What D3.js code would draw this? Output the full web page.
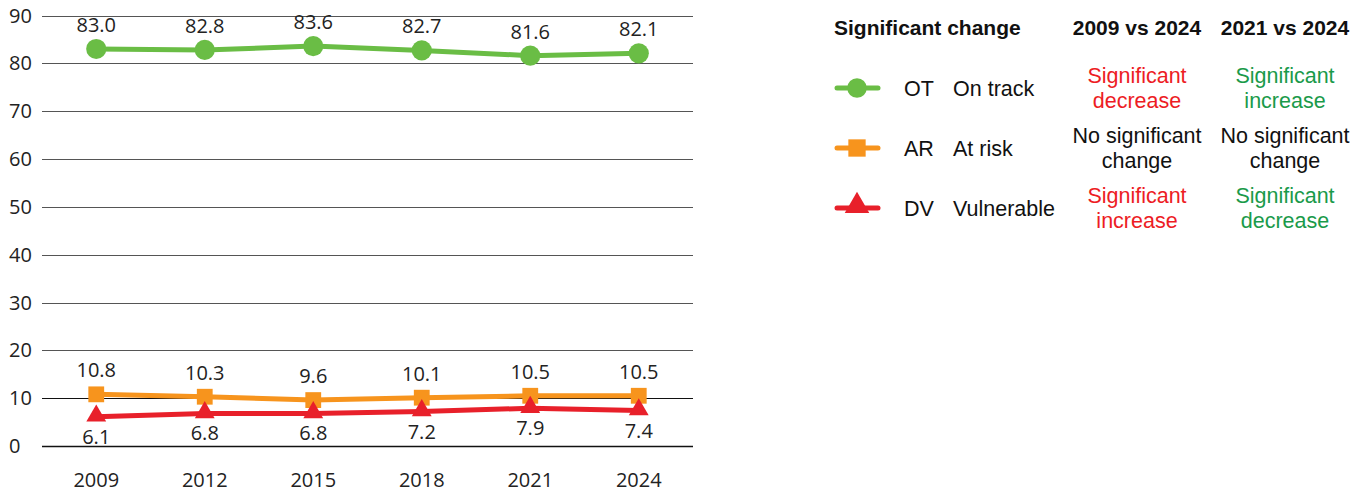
<!DOCTYPE html>
<html>
<head>
<meta charset="utf-8">
<script src="https://cdn.jsdelivr.net/npm/d3@7/dist/d3.min.js"></script>
<style>
  html, body { margin: 0; padding: 0; background: #fff; }
  svg { display: block; }
</style>
</head>
<body>
<svg id="chart" width="1367" height="493"></svg>
<script>
// Survey years and the share of children in each developmental group (%)
const years = ["2009", "2012", "2015", "2018", "2021", "2024"];
const onTrack = [83.0, 82.8, 83.6, 82.7, 81.6, 82.1];
const atRisk = [10.8, 10.3, 9.6, 10.1, 10.5, 10.5];
const vulnerable = [6.1, 6.8, 6.8, 7.2, 7.9, 7.4];
const yTicks = [0, 10, 20, 30, 40, 50, 60, 70, 80, 90];

// Legend / significance table
const codes = ["OT", "AR", "DV"];
const groupNames = ["On track", "At risk", "Vulnerable"];
const change2009 = [["Significant", "decrease"], ["No significant", "change"], ["Significant", "increase"]];
const change2021 = [["Significant", "increase"], ["No significant", "change"], ["Significant", "decrease"]];
const tone2009 = ["down", "none", "up"];
const tone2021 = ["up", "none", "down"];

const colors = { OT: "#6abd45", AR: "#f7941d", DV: "#e8202a" };
const toneColor = { down: "#ed1c24", up: "#ed1c24", none: "#111" };
const toneColor2 = { up: "#1a9a4a", down: "#1a9a4a", none: "#111" };

const chartFont = "'Open Sans', 'Noto Sans', sans-serif";
const legendFont = "'Liberation Sans', Arial, sans-serif";

const svg = d3.select("#chart");

const x = d3.scalePoint().domain(years).range([42, 693]).padding(0.5);
const y = d3.scaleLinear().domain([0, 90]).range([446, 15.5]);

// Horizontal grid lines
svg.append("g").selectAll("line").data(yTicks).join("line")
  .attr("x1", 42).attr("x2", 693)
  .attr("y1", d => Math.round(y(d)) + 0.5).attr("y2", d => Math.round(y(d)) + 0.5)
  .attr("stroke", d => d <= 10 ? "#111" : "#555")
  .attr("stroke-width", d => d === 0 ? 1.6 : 1.2);

// Y axis labels
svg.append("g").selectAll("text").data(yTicks).join("text")
  .attr("x", 9).attr("y", d => y(d) + 7)
  .attr("font-family", chartFont).attr("font-size", 20).attr("fill", "#222")
  .text(d => d);

// X axis labels
svg.append("g").selectAll("text").data(years).join("text")
  .attr("x", d => x(d)).attr("y", 487)
  .attr("text-anchor", "middle")
  .attr("font-family", chartFont).attr("font-size", 20).attr("fill", "#222")
  .text(d => d);

const line = d3.line().x((d, i) => x(years[i])).y(d => y(d));

const series = [
  { key: "OT", values: onTrack, shape: d3.symbolCircle, size: 320 },
  { key: "AR", values: atRisk, shape: d3.symbolSquare, size: 250 },
  { key: "DV", values: vulnerable, shape: d3.symbolTriangle, size: 170 }
];

// Draw AR first, then DV, then OT so the red line sits over the orange one
[series[1], series[2], series[0]].forEach(s => {
  const g = svg.append("g");
  g.append("path").datum(s.values)
    .attr("d", line).attr("fill", "none")
    .attr("stroke", colors[s.key]).attr("stroke-width", 5)
    .attr("stroke-linejoin", "round");
  g.selectAll("path.mark").data(s.values).join("path")
    .attr("class", "mark")
    .attr("d", d3.symbol().type(s.shape).size(s.size))
    .attr("transform", (d, i) => `translate(${x(years[i])},${y(d) + (s.key === "DV" ? -1 : 0)})`)
    .attr("fill", colors[s.key]);
});

// Value labels: above the line for OT and AR, below for DV
series.forEach(s => {
  svg.append("g").selectAll("text").data(s.values).join("text")
    .attr("x", (d, i) => x(years[i]))
    .attr("y", d => s.key === "DV" ? y(d) + 27 : y(d) - 17)
    .attr("text-anchor", "middle")
    .attr("font-family", chartFont).attr("font-size", 20).attr("fill", "#222")
    .text(d => d.toFixed(1));
});

// Significance table
const lg = svg.append("g");
lg.append("text").attr("x", 834).attr("y", 35)
  .attr("font-family", legendFont).attr("font-weight", "bold").attr("font-size", 21)
  .attr("fill", "#111").text("Significant change");
lg.append("text").attr("x", 1137).attr("y", 35).attr("text-anchor", "middle")
  .attr("font-family", legendFont).attr("font-weight", "bold").attr("font-size", 21)
  .attr("fill", "#111").text("2009 vs 2024");
lg.append("text").attr("x", 1285).attr("y", 35).attr("text-anchor", "middle")
  .attr("font-family", legendFont).attr("font-weight", "bold").attr("font-size", 21)
  .attr("fill", "#111").text("2021 vs 2024");

const shapes = [d3.symbolCircle, d3.symbolSquare, d3.symbolTriangle];
const shapeSizes = [300, 300, 260];
codes.forEach((c, i) => {
  const cy = 88 + i * 60;
  lg.append("line").attr("x1", 837).attr("x2", 878).attr("y1", cy).attr("y2", cy)
    .attr("stroke", colors[c]).attr("stroke-width", 5).attr("stroke-linecap", "round");
  lg.append("path").attr("d", d3.symbol().type(shapes[i]).size(shapeSizes[i]))
    .attr("transform", `translate(857,${cy - (i === 2 ? 2 : 0)})`).attr("fill", colors[c]);
  lg.append("text").attr("x", 904).attr("y", cy + 8)
    .attr("font-family", legendFont).attr("font-size", 21.5).attr("fill", "#111").text(c);
  lg.append("text").attr("x", 953).attr("y", cy + 8)
    .attr("font-family", legendFont).attr("font-size", 21.5).attr("fill", "#111").text(groupNames[i]);

  [[change2009[i], toneColor[tone2009[i]], 1137], [change2021[i], toneColor2[tone2021[i]], 1285]].forEach(([lines, col, cx]) => {
    lines.forEach((t, k) => {
      lg.append("text").attr("x", cx).attr("y", cy - 5 + k * 24.5)
        .attr("text-anchor", "middle")
        .attr("font-family", legendFont).attr("font-size", 21.5).attr("fill", col).text(t);
    });
  });
});
</script>
</body>
</html>
